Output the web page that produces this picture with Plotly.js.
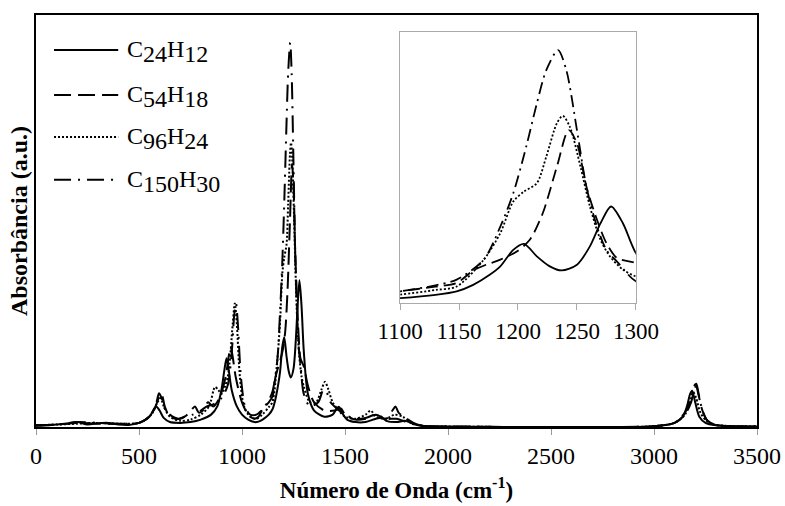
<!DOCTYPE html>
<html><head><meta charset="utf-8">
<script src="https://cdn.plot.ly/plotly-3.0.1.min.js"></script>
<style>html,body{margin:0;padding:0;background:#fff}#chart{width:785px;height:506px}</style>
</head><body><div id="chart"></div>
<script>
// Series names (carbon / hydrogen counts)
const carbons = [24, 54, 96, 150];
const hydrogens = [12, 18, 24, 30];

// C24H12 (solid)
const x_c24 = [0,50,100,150,200,250,300,350,400,450,500,540,560,575,585,600,620,650,700,750,800,850,880,900,915,925,935,950,975,1000,1030,1060,1080,1100,1130,1148,1162,1176,1185,1196,1205,1216,1227,1237,1250,1261,1270,1279,1289,1300,1320,1350,1400,1440,1460,1470,1485,1510,1550,1600,1650,1680,1700,1750,1790,1820,1850,1900,2000,2500,3000,3100,3140,3160,3175,3185,3200,3220,3250,3300,3500];
const y_c24 = [0.003,0.004,0.006,0.008,0.012,0.006,0.009,0.010,0.006,0.005,0.010,0.020,0.032,0.045,0.049,0.040,0.022,0.012,0.010,0.012,0.018,0.030,0.050,0.090,0.140,0.167,0.140,0.090,0.050,0.030,0.018,0.012,0.013,0.018,0.030,0.043,0.067,0.104,0.135,0.196,0.218,0.172,0.135,0.120,0.141,0.209,0.294,0.356,0.294,0.184,0.080,0.040,0.025,0.030,0.045,0.049,0.035,0.018,0.012,0.012,0.020,0.022,0.015,0.012,0.015,0.010,0.005,0.002,0.001,0.000,0.002,0.010,0.025,0.050,0.080,0.088,0.060,0.025,0.010,0.004,0.001];

// C54H18 (dashed)
const x_c54 = [0,100,200,300,400,500,550,580,600,610,625,650,700,730,760,772,790,810,835,860,890,920,935,945,955,970,1000,1030,1060,1080,1100,1130,1148,1162,1173,1185,1199,1210,1221,1233,1243,1250,1258,1267,1275,1284,1300,1320,1350,1400,1450,1480,1500,1550,1600,1650,1700,1730,1745,1760,1800,1850,1900,2000,2500,3000,3100,3150,3180,3195,3205,3215,3235,3260,3300,3500];
const y_c54 = [0.004,0.006,0.010,0.008,0.008,0.010,0.025,0.050,0.075,0.080,0.050,0.025,0.020,0.028,0.045,0.050,0.035,0.040,0.060,0.050,0.070,0.120,0.170,0.194,0.170,0.120,0.060,0.030,0.020,0.025,0.043,0.060,0.074,0.120,0.141,0.160,0.190,0.233,0.331,0.503,0.638,0.589,0.430,0.307,0.221,0.166,0.147,0.100,0.060,0.040,0.040,0.045,0.030,0.018,0.020,0.030,0.020,0.040,0.050,0.035,0.020,0.006,0.002,0.001,0.000,0.002,0.010,0.030,0.060,0.090,0.100,0.080,0.040,0.015,0.005,0.001];

// C96H24 (dotted)
const x_c96 = [0,100,200,300,400,500,560,590,605,620,650,700,750,800,840,869,885,900,930,955,965,975,990,1010,1040,1070,1100,1130,1148,1171,1185,1196,1205,1216,1224,1233,1238,1244,1253,1261,1270,1278,1289,1300,1330,1360,1385,1403,1420,1440,1470,1500,1550,1600,1625,1650,1700,1740,1780,1820,1860,1900,2000,2500,3000,3100,3150,3175,3190,3205,3225,3260,3300,3500];
const y_c96 = [0.004,0.006,0.008,0.010,0.008,0.010,0.030,0.060,0.070,0.050,0.025,0.015,0.018,0.030,0.050,0.097,0.090,0.080,0.120,0.250,0.300,0.250,0.120,0.050,0.025,0.020,0.031,0.048,0.061,0.160,0.258,0.374,0.411,0.442,0.540,0.663,0.690,0.650,0.503,0.356,0.233,0.172,0.123,0.098,0.060,0.060,0.090,0.110,0.090,0.060,0.040,0.025,0.020,0.030,0.040,0.025,0.020,0.030,0.025,0.010,0.004,0.002,0.001,0.000,0.002,0.010,0.030,0.060,0.085,0.070,0.035,0.012,0.005,0.001];

// C150H30 (dash-dot)
const x_c150 = [0,100,200,300,400,500,560,585,597,610,625,650,690,720,760,800,830,860,900,930,950,962,971,980,995,1015,1040,1070,1100,1130,1148,1171,1185,1196,1207,1216,1224,1234,1241,1250,1258,1267,1275,1284,1300,1330,1370,1395,1410,1430,1460,1500,1550,1600,1650,1700,1750,1800,1850,1900,2000,2500,3000,3100,3150,3180,3195,3205,3215,3235,3260,3300,3500];
const y_c150 = [0.004,0.006,0.012,0.010,0.008,0.010,0.030,0.060,0.082,0.070,0.045,0.030,0.020,0.025,0.030,0.040,0.050,0.055,0.070,0.100,0.180,0.270,0.300,0.250,0.120,0.050,0.030,0.030,0.043,0.065,0.086,0.160,0.282,0.405,0.577,0.736,0.859,0.933,0.859,0.638,0.430,0.282,0.196,0.153,0.080,0.050,0.060,0.090,0.085,0.060,0.045,0.030,0.020,0.022,0.030,0.020,0.020,0.012,0.004,0.002,0.001,0.000,0.002,0.010,0.035,0.070,0.100,0.105,0.085,0.040,0.015,0.005,0.001];

const xTicksMain = [0,500,1000,1500,2000,2500,3000,3500];
const xTicksInset = [1100,1150,1200,1250,1300];

const xs = [x_c24, x_c54, x_c96, x_c150];
const ys = [y_c24, y_c54, y_c96, y_c150];
const dashes = ['solid', '17px,7px', '2px,2px', '17px,7px,2px,7px'];
const insetDashes = ['solid', '12px,6px', '2px,2px', '12px,5px,2px,5px'];

const serif = '"Liberation Serif", "Times New Roman", serif';
const traces = [];
for (let i = 0; i < 4; i++) {
  traces.push({x: xs[i], y: ys[i], type: 'scatter', mode: 'lines', xaxis: 'x', yaxis: 'y',
    line: {color: '#000', width: 2, dash: dashes[i], shape: 'spline', smoothing: 0.8},
    showlegend: false, hoverinfo: 'skip'});
}
for (let i = 0; i < 4; i++) {
  traces.push({x: xs[i], y: ys[i], type: 'scatter', mode: 'lines', xaxis: 'x2', yaxis: 'y2',
    line: {color: '#000', width: 1.8, dash: insetDashes[i], shape: 'spline', smoothing: 0.8},
    showlegend: false, hoverinfo: 'skip'});
}

// manual legend
const rowY = [0.915, 0.806, 0.704, 0.600];
const shapes = [];
const annotations = [];
for (let i = 0; i < 4; i++) {
  shapes.push({type: 'line', xref: 'paper', yref: 'paper', x0: 0.025, x1: 0.114, y0: rowY[i], y1: rowY[i],
    line: {color: '#000', width: 2, dash: dashes[i]}});
  const sub = n => '<sub><span style="font-size:24px">' + n + '</span></sub>';
  annotations.push({xref: 'paper', yref: 'paper', x: 0.124, y: rowY[i] - 0.004, xanchor: 'left', yanchor: 'middle',
    showarrow: false, text: 'C' + sub(carbons[i]) + 'H' + sub(hydrogens[i]),
    font: {family: serif, size: 24, color: '#000'}});
}

const layout = {
  width: 785, height: 506,
  margin: {l: 36, r: 28, t: 15, b: 79},
  paper_bgcolor: '#fff', plot_bgcolor: '#fff',
  font: {family: serif, color: '#000'},
  xaxis: {domain: [0, 1], range: [0, 3500], tickvals: xTicksMain, ticktext: xTicksMain.map(String),
    showgrid: false, zeroline: false, showline: true, linecolor: '#000', linewidth: 2, mirror: true,
    ticks: 'outside', ticklen: 6, tickcolor: '#999', tickwidth: 1, ticklabelstandoff: 0,
    tickfont: {family: serif, size: 24, color: '#000'}, automargin: false,
    title: {text: '<b>Número de Onda (cm<sup>-1</sup>)</b>', font: {family: serif, size: 23, color: '#000'}, standoff: 14}},
  yaxis: {domain: [0, 1], range: [0, 1], showgrid: false, zeroline: false, showline: true, linecolor: '#000', linewidth: 2,
    mirror: true, ticks: '', showticklabels: false, automargin: false,
    title: {text: '<b>Absorbância (a.u.)</b>', font: {family: serif, size: 24, color: '#000'}, standoff: 0}},
  xaxis2: {domain: [0.505, 0.832], anchor: 'y2', range: [1100, 1300], tickvals: xTicksInset, ticktext: xTicksInset.map(String),
    showgrid: false, zeroline: false, showline: true, linecolor: '#aaa', linewidth: 1, mirror: true,
    ticks: 'outside', ticklen: 6, tickcolor: '#aaa', tickwidth: 1, ticklabelstandoff: 1,
    tickfont: {family: serif, size: 23, color: '#000'}, automargin: false},
  yaxis2: {domain: [0.301, 0.959], anchor: 'x2', range: [0, 1], showgrid: false, zeroline: false, showline: true,
    linecolor: '#aaa', linewidth: 1, mirror: true, ticks: '', showticklabels: false, automargin: false},
  shapes: shapes,
  annotations: annotations,
  showlegend: false
};
Plotly.newPlot('chart', traces, layout, {staticPlot: true, displayModeBar: false});
</script></body></html>
